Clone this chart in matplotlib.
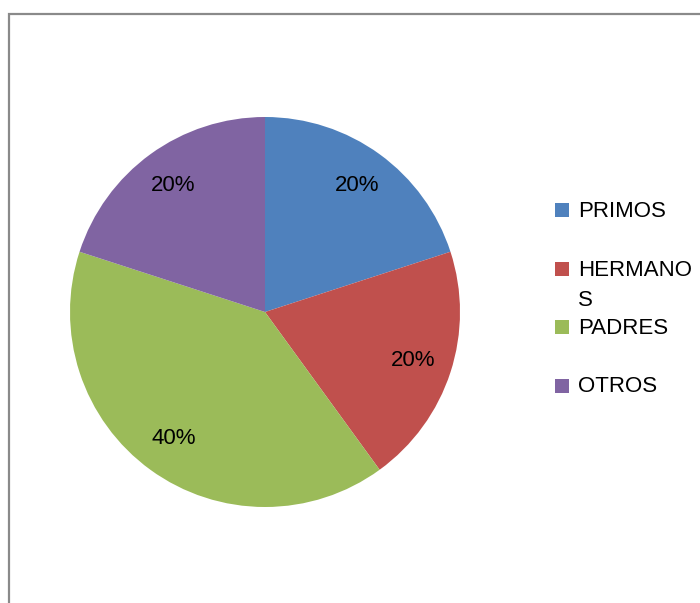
import matplotlib
matplotlib.use("Agg")
import matplotlib.pyplot as plt
from matplotlib.patches import Rectangle

categories = ["PRIMOS", "HERMANOS", "PADRES", "OTROS"]
legend_labels = ["PRIMOS", "HERMANO\nS", "PADRES", "OTROS"]
values = [20, 20, 40, 20]
colors = ["#4F81BD", "#C0504D", "#9BBB59", "#8064A2"]

W, H = 700, 603
plt.rcParams['font.family'] = ['Liberation Sans', 'DejaVu Sans']
fig = plt.figure(figsize=(W / 100, H / 100), dpi=100)
fig.patch.set_facecolor("white")

# outer frame (cut off at right/bottom)
fig.patches.append(Rectangle((9 / W, -0.1), 1.2, (H - 14) / H + 0.1,
                             transform=fig.transFigure, fill=False,
                             edgecolor="#8a8a8a", linewidth=1.6))

cx, cy, r = 265, 312, 195
ax = fig.add_axes([(cx - r) / W, 1 - (cy + r) / H, 2 * r / W, 2 * r / H])
wedges, texts, autotexts = ax.pie(values, colors=colors, startangle=90,
                                  counterclock=False, autopct="%d%%",
                                  pctdistance=0.8, radius=1.0,
                                  wedgeprops=dict(linewidth=0))
for t in autotexts:
    t.set_fontsize(16)
    t.set_color("black")
ax.set_xlim(-1, 1)
ax.set_ylim(-1, 1)
ax.set_aspect("equal")
ax.axis("off")

# legend
lx, ly0, pitch, sq = 555, 210, 58.5, 14
for i, (lab, col) in enumerate(zip(legend_labels, colors)):
    yc = ly0 + i * pitch
    fig.patches.append(Rectangle((lx / W, 1 - (yc + sq / 2) / H), sq / W, sq / H,
                                 transform=fig.transFigure, facecolor=col,
                                 edgecolor="none"))
    fig.text((lx + 23) / W, 1 - (yc - 9) / H, lab, fontsize=16,
             va="top", ha="left", linespacing=1.6, color="black")

fig.savefig("out.png", dpi=100, facecolor="white")
